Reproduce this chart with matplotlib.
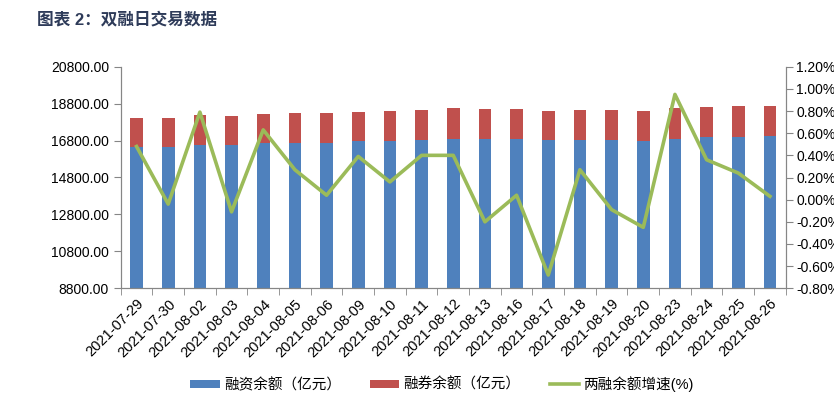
import matplotlib
matplotlib.use("Agg")
import matplotlib.pyplot as plt
import numpy as np
from matplotlib.ticker import FixedLocator, FuncFormatter

plt.rcParams['font.family'] = ['Liberation Sans', 'Noto Sans CJK SC', 'DejaVu Sans']

dates = ["2021-07-29", "2021-07-30", "2021-08-02", "2021-08-03", "2021-08-04",
         "2021-08-05", "2021-08-06", "2021-08-09", "2021-08-10", "2021-08-11",
         "2021-08-12", "2021-08-13", "2021-08-16", "2021-08-17", "2021-08-18",
         "2021-08-19", "2021-08-20", "2021-08-23", "2021-08-24", "2021-08-25",
         "2021-08-26"]
# 融资余额 (亿元)
financing = [16470, 16453, 16577, 16545, 16653, 16686, 16686, 16762, 16762, 16848,
             16890, 16870, 16888, 16816, 16816, 16816, 16778, 16902, 16978, 16994,
             17049]
# 两融余额合计 (亿元)
total = [18023, 18007, 18170, 18132, 18240, 18294, 18294, 18365, 18403, 18473,
         18549, 18511, 18527, 18403, 18457, 18440, 18386, 18565, 18635, 18690,
         18690]
lending = [t - f for t, f in zip(total, financing)]
# 两融余额增速 (%)
growth = [0.48, -0.04, 0.79, -0.11, 0.63, 0.27, 0.04, 0.39, 0.16, 0.40,
          0.40, -0.20, 0.04, -0.68, 0.27, -0.09, -0.25, 0.95, 0.36, 0.24,
          0.03]

blue = "#4F81BD"
red = "#C0504D"
green = "#9BBB59"
gray = "#868686"


def pct(v, p):
    s = "%.2f%%" % v
    if s == "-0.00%":
        s = "0.00%"
    return s


fig = plt.figure(figsize=(8.34, 3.95), dpi=100)
ax = fig.add_axes([120.7 / 834, 1 - 288.3 / 395, (785.8 - 120.7) / 834, (288.3 - 66.7) / 395])
x = np.arange(len(dates))

b1 = ax.bar(x, financing, width=0.4, color=blue, label="融资余额（亿元）", zorder=2)
b2 = ax.bar(x, lending, width=0.4, bottom=financing, color=red, label="融券余额（亿元）", zorder=2)
ax.set_ylim(8800, 20800)
ax.set_yticks(np.arange(8800, 20801, 2000))
ax.yaxis.set_major_formatter(FuncFormatter(lambda v, p: "%.2f" % v))
ax.set_xlim(-0.5, len(dates) - 0.5)
ax.set_xticks(x)
ax.set_xticklabels(dates, rotation=45, ha="right", rotation_mode="anchor", fontsize=10.5)
ax.xaxis.set_minor_locator(FixedLocator(np.arange(-0.5, len(dates), 1)))
ax.tick_params(axis="x", which="major", length=0, pad=6)
ax.tick_params(axis="x", which="minor", length=5, color=gray)
ax.tick_params(axis="y", length=5, color=gray, labelsize=10)

ax2 = ax.twinx()
l1, = ax2.plot(x, growth, color=green, lw=2.6, label="两融余额增速(%)", zorder=3)
ax2.set_ylim(-0.8, 1.2)
ax2.set_yticks(np.arange(-0.8, 1.21, 0.2))
ax2.yaxis.set_major_formatter(FuncFormatter(pct))
ax2.tick_params(axis="y", length=5, color=gray, labelsize=10, pad=2.5)

for a in (ax, ax2):
    a.spines["top"].set_visible(False)
    for s in ("left", "right", "bottom"):
        a.spines[s].set_color(gray)

fig.text(37 / 834, 1 - 20 / 395, "图表 2：双融日交易数据", fontsize=12, fontweight="bold",
         color="#2E3B59", va="center", ha="left")

fig.legend(handles=[b1, b2, l1], loc="center", bbox_to_anchor=(0.53, 1 - 384 / 395),
           ncol=3, frameon=False, fontsize=10.5, handlelength=2.0, handleheight=0.5,
           columnspacing=2.0, handletextpad=0.3)

fig.savefig("out.png", dpi=100)
